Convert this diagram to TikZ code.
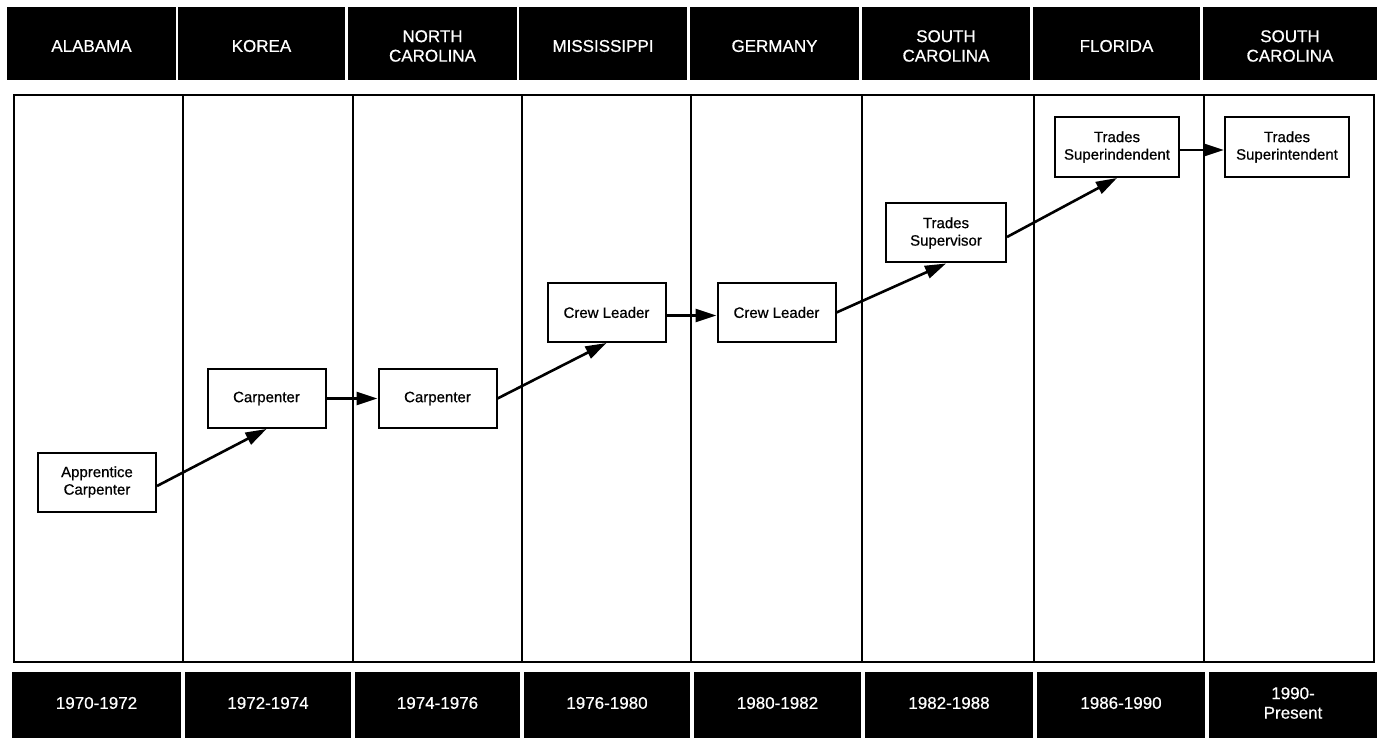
\documentclass[tikz,border=0pt]{standalone}
\usepackage{fontspec}
\setmainfont[FakeBold=0.6]{Liberation Sans}
\usetikzlibrary{arrows.meta}
\begin{document}
\begin{tikzpicture}[x=1pt,y=-1pt,
  celltext/.style={text=white,font=\fontsize{17}{19.5}\selectfont,align=center,inner sep=0},
  frame/.style={line width=2pt},
  job/.style={draw,line width=2pt,fill=white,font=\fontsize{15}{17.5}\selectfont,align=center,inner sep=0,minimum width=118pt,minimum height=59pt},
  link/.style={line width=2.6pt,-{Triangle[length=21pt,width=13pt]}}]
\useasboundingbox[fill=white] (0,0) rectangle (1377,738);

% header cells
\foreach \n/\a/\b/\t in {1/7/176/ALABAMA, 2/178/345/KOREA, 3/348/517/{NORTH\\CAROLINA}, 4/519/687/MISSISSIPPI, 5/690/859/GERMANY, 6/862/1030/{SOUTH\\CAROLINA}, 7/1033/1200/FLORIDA, 8/1203/1377/{SOUTH\\CAROLINA}}{
  \fill (\a,7) rectangle (\b,80);
  \node[celltext] (h\n) at ({(\a+\b)/2},46) {\t};
}

% bottom cells
\foreach \n/\a/\b/\t in {1/12/181/1970-1972, 2/185/351/1972-1974, 3/355/520/1974-1976, 4/524/690/1976-1980, 5/694/861/1980-1982, 6/865/1033/1982-1988, 7/1037/1205/1986-1990, 8/1209/1377/{1990-\\Present}}{
  \fill (\a,672) rectangle (\b,738);
  \node[celltext] (d\n) at ({(\a+\b)/2},703) {\t};
}

% body frame and columns
\draw[frame] (14,95) rectangle (1374,662);
\foreach \x in {183,353,522,691,862,1034,1204}{
  \draw[frame] (\x,95) -- (\x,662);
}

% job boxes
\node[job] (appr) at (97,482) {Apprentice\\Carpenter};
\node[job] (carp1) at (266.5,398.5) {Carpenter};
\node[job] (carp2) at (437.5,398.5) {Carpenter};
\node[job] (crew1) at (606.5,312.5) {Crew Leader};
\node[job] (crew2) at (776.5,312.5) {Crew Leader};
\node[job,minimum width=120pt] (sup) at (946,233) {Trades\\Supervisor};
\node[job,minimum width=124pt,minimum height=60pt] (sind) at (1117,147) {Trades\\Superindendent};
\node[job,minimum width=124pt,minimum height=60pt] (sint) at (1287,147) {Trades\\Superintendent};

% connectors
\draw[link] ([yshift=-4pt]appr.east) -- (carp1.south);
\draw[link] (carp1.east) -- (carp2.west);
\draw[link] ([yshift=-3pt]crew1.east) -- ([yshift=-3pt]crew2.west);
\draw[link] (carp2.east) -- (crew1.south);
\draw[link] (crew2.east) -- (sup.south);
\draw[link] ([yshift=-4pt]sup.east) -- (sind.south);
\draw[link] ([yshift=-3pt]sind.east) -- ([yshift=-3pt]sint.west);
\end{tikzpicture}
\end{document}
